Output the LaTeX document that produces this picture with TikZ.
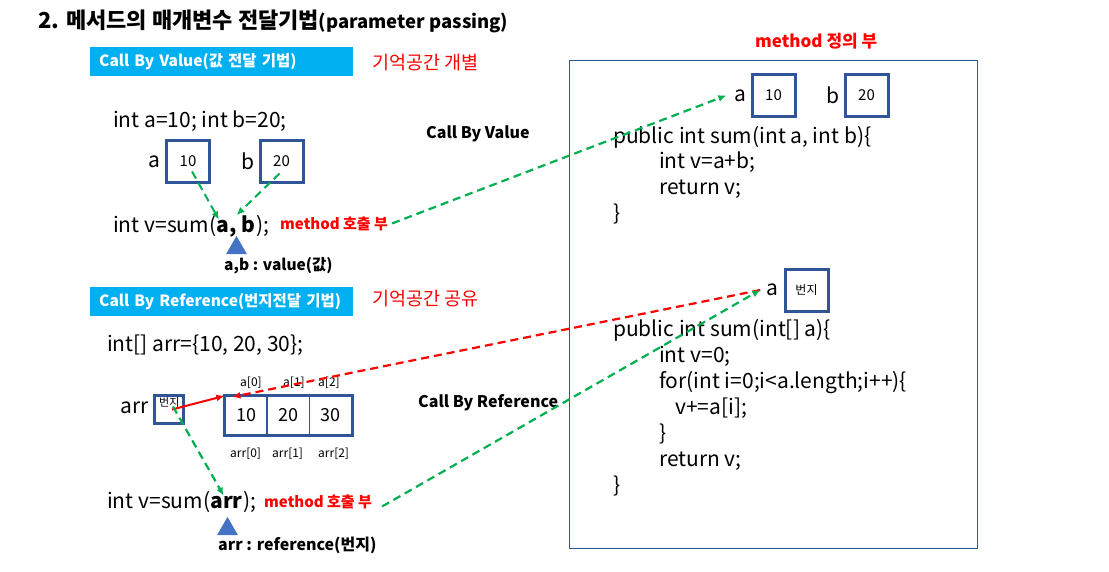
\documentclass[tikz,border=0pt]{standalone}
\usepackage{fontspec}
\setmainfont{Noto Sans CJK KR}
\usetikzlibrary{arrows.meta,positioning,shapes.geometric}
\definecolor{boxblue}{HTML}{2F5597}
\definecolor{headcyan}{HTML}{00B0F0}
\definecolor{tribLue}{HTML}{4472C4}
\definecolor{arrgreen}{HTML}{00B050}
\newcommand{\codesize}{\fontsize{21}{24}\selectfont}

\begin{document}
\begin{tikzpicture}[x=1pt, y=-1pt, >={Latex[length=8pt,width=7pt]}, every node/.style={inner sep=0pt}]
\tikzstyle{txt}=[anchor=base west, font=\codesize]
\tikzstyle{small}=[anchor=base west, font=\fontsize{12}{14}\selectfont]
\tikzstyle{header}=[anchor=west, fill=headcyan, text=white, font=\bfseries\fontsize{15.5}{17}\selectfont, minimum height=29pt, text width=245pt, inner xsep=9pt]
\tikzstyle{note}=[anchor=base west, text=red, font=\fontsize{18.5}{20}\selectfont]
\tikzstyle{callnote}=[anchor=base west, text=red, font=\bfseries\fontsize{15}{17}\selectfont]
\tikzstyle{bold}=[anchor=base west, font=\bfseries\fontsize{16}{18}\selectfont]
\tikzstyle{valbox}=[draw=boxblue, line width=3pt, minimum width=43pt, minimum height=42pt, font=\fontsize{15}{17}\selectfont]
\tikzstyle{cell}=[draw=boxblue, line width=1.2pt, minimum width=42pt, minimum height=38pt, font=\fontsize{18}{20}\selectfont]
\tikzstyle{marker}=[regular polygon, regular polygon sides=3, fill=tribLue, minimum size=24pt]
\tikzstyle{gdash}=[->, arrgreen, line width=2.2pt, dash pattern=on 8pt off 5pt]
\tikzstyle{rdash}=[->, red, line width=2.2pt, dash pattern=on 8pt off 5pt]
\useasboundingbox (0,0) rectangle (1109,571);

% title
\node[anchor=base west, font=\bfseries\fontsize{22}{26}\selectfont] (title) at (38,28)
  {2. 메서드의 매개변수 전달기법{\fontsize{18.5}{22}\selectfont(parameter passing)}};

% call by value
\node[header] (hdval) at (90,61.5) {Call By Value(값 전달 기법)};
\node[note] (sepmem) at (372,69) {기억공간 개별};
\node[txt] (decl) at (113,127) {int a=10; int b=20;};
\node[bold] (cbv) at (426,138) {Call By Value};
\node[valbox] (vala) at (188,161.5) {10};
\node[valbox] (valb) at (281.5,161.5) {20};
\node[txt, left=4pt of vala] (laba) {a};
\node[txt, left=4pt of valb] (labb) {b};
\node[txt] (callv) at (113,232) {int v=sum(};
\node[txt] (arga) at (callv.base east) {\textbf{a}};
\node[txt] (argb) at (arga.base east) {\textbf{, b}};
\node[txt] (callvend) at (argb.base east) {);};
\node[callnote] (callone) at (280,229) {method 호출 부};
\node[marker] (trione) at (236.5,248) {};
\node[bold, font=\bfseries\fontsize{15.5}{17}\selectfont] (valnote) at (224,270) {a,b : value(값)};

% call by reference
\node[header] (hdref) at (90,301.5) {Call By Reference(번지전달 기법)};
\node[note] (shmem) at (372,305) {기억공간 공유};
\node[txt] (arrdecl) at (107,351) {int[] arr=\{10, 20, 30\};};
\node[draw=boxblue, line width=3pt, minimum width=29pt, minimum height=28pt] (arrbox) at (169,409.5) {};
\node[anchor=north west, font=\fontsize{11}{12}\selectfont] (addrone) at (159,397) {번지};
\node[txt] (arrlab) at (120,413) {arr};
\node[cell] (cella) at (246,415.5) {10};
\node[cell] (cellb) at (288.5,415.5) {20};
\node[cell] (cellc) at (330.5,415.5) {30};
\draw[boxblue, line width=3pt] (cella.north west) rectangle (cellc.south east);
\node[small] (ia) at (240,386) {a[0]};
\node[small] (ib) at (283,386) {a[1]};
\node[small] (ic) at (318,386) {a[2]};
\node[small] (ra) at (230,457) {arr[0]};
\node[small] (rb) at (272,457) {arr[1]};
\node[small] (rc) at (318,457) {arr[2]};
\node[bold] (cbr) at (418,407) {Call By Reference};
\node[txt] (callr) at (107,508) {int v=sum(};
\node[txt] (argarr) at (callr.base east) {\textbf{arr}};
\node[txt] (callrend) at (argarr.base east) {);};
\node[callnote] (calltwo) at (264,507) {method 호출 부};
\node[marker] (tritwo) at (227.5,529) {};
\node[bold] (refnote) at (218,550) {arr : reference(번지)};

% method definitions
\node[draw=boxblue, line width=1.2pt, anchor=north west, minimum width=408pt, minimum height=488pt] (defbox) at (569,60) {};
\node[callnote, font=\bfseries\fontsize{17}{19}\selectfont] (defnote) at (755,47) {method 정의 부};
\node[valbox] (para) at (773.5,95.5) {10};
\node[valbox] (parb) at (866.5,95.5) {20};
\node[txt, left=4pt of para] (pla) {a};
\node[txt, left=4pt of parb] (plb) {b};
\node[txt] (sumone) at (613,143) {public int sum(int a, int b)\{};
\node[txt] (lineone) at (659,168) {int v=a+b;};
\node[txt] (linetwo) at (659,194) {return v;};
\node[txt] (closeone) at (613,220) {\}};

\node[valbox, font=\fontsize{12}{14}\selectfont] (parref) at (806.5,290) {번지};
\node[txt, left=5pt of parref] (plref) {a};
\node[txt] (sumtwo) at (613,336) {public int sum(int[] a)\{};
\node[txt] (linea) at (659,362) {int v=0;};
\node[txt] (lineb) at (659,388) {for(int i=0;i<a.length;i++)\{};
\node[txt] (linec) at (675,414) {v+=a[i];};
\node[txt] (lined) at (659,440) {\}};
\node[txt] (linee) at (659,466) {return v;};
\node[txt] (closetwo) at (613,492) {\}};

% connectors
\draw[gdash, line width=2pt] ([xshift=4pt,yshift=-10pt]vala.center) -- ([xshift=-4pt]arga.north);
\draw[gdash, line width=2pt] ([xshift=-2pt,yshift=-12pt]valb.center) -- ([xshift=-6pt]argb.north);
\draw[gdash] ([xshift=4pt]callone.east) -- ([xshift=-8pt]pla.west);
\draw[->, red, line width=2pt] ([xshift=3pt]arrbox.center) -- (cella.north west);
\draw[rdash] ([xshift=-6pt]plref.west) -- ([xshift=8pt,yshift=-1pt]cella.north west);
\draw[gdash] ([xshift=4pt,yshift=3pt]arrbox.center) -- ([xshift=-3pt]argarr.north);
\draw[gdash] ([xshift=10pt,yshift=-5pt]calltwo.east) -- ([xshift=-6pt]plref.west);
\end{tikzpicture}
\end{document}
